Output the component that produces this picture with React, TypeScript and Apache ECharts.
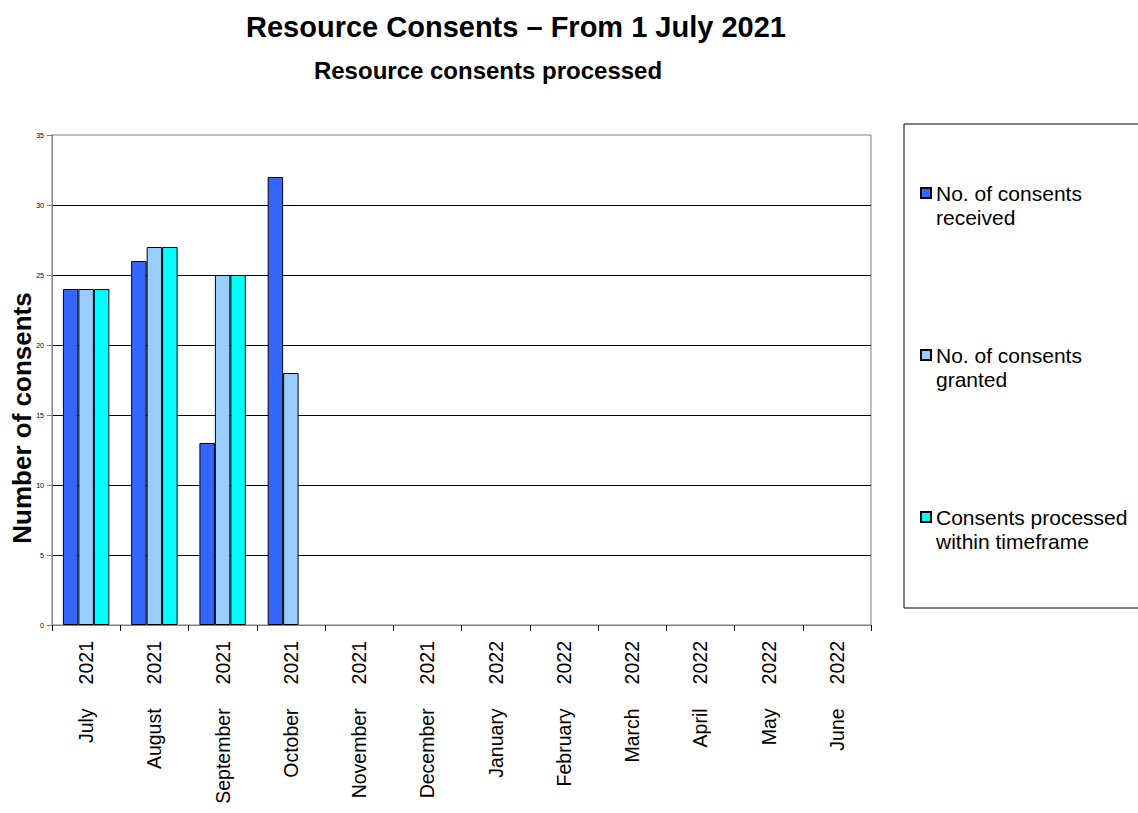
import React, { useEffect, useRef } from "react";
import * as echarts from "echarts";

const months = ["July", "August", "September", "October", "November", "December", "January", "February", "March", "April", "May", "June"];
const years = ["2021", "2021", "2021", "2021", "2021", "2021", "2022", "2022", "2022", "2022", "2022", "2022"];
const categories = months.map((m, i) => `${m} ${years[i]}`);

const seriesNames = ["No. of consents received", "No. of consents granted", "Consents processed within timeframe"];
const legendLabels = ["No. of consents\nreceived", "No. of consents\ngranted", "Consents processed\nwithin timeframe"];
const seriesColors = ["#3366FF", "#99CCFF", "#00FFFF"];

const received = [24, 26, 13, 32, null, null, null, null, null, null, null, null];
const granted = [24, 27, 25, 18, null, null, null, null, null, null, null, null];
const processed = [24, 27, 25, null, null, null, null, null, null, null, null, null];

const FONT = "'Liberation Sans', Arial, Helvetica, sans-serif";

export default function App() {
  const ref = useRef<HTMLDivElement>(null);
  useEffect(() => {
    if (!ref.current) return;
    const chart = echarts.init(ref.current, undefined, { renderer: "svg" });
    const values = [received, granted, processed];
    chart.setOption({
      animation: false,
      backgroundColor: "#ffffff",
      title: [
        {
          text: "Resource Consents \u2013 From 1 July 2021",
          left: 511,
          top: 7,
          textAlign: "center",
          textStyle: { fontFamily: FONT, fontSize: 29, fontWeight: "bold", color: "#000" },
        },
        {
          text: "Resource consents processed",
          left: 483,
          top: 53,
          textAlign: "center",
          textStyle: { fontFamily: FONT, fontSize: 24, fontWeight: "bold", color: "#000" },
        },
      ],
      graphic: [
        {
          type: "rect",
          shape: { x: 904, y: 124, width: 300, height: 484 },
          style: { fill: "none", stroke: "#000", lineWidth: 1 },
          silent: true,
        },
      ],
      legend: {
        orient: "vertical",
        left: 920,
        top: 157,
        padding: 0,
        itemGap: 90,
        itemWidth: 10,
        itemHeight: 10,
        icon: "rect",
        data: seriesNames,
        formatter: (name: string) => "\n" + legendLabels[seriesNames.indexOf(name)],
        textStyle: {
          fontFamily: FONT,
          fontSize: 21,
          lineHeight: 24,
          color: "#000",
        },
      },
      grid: {
        left: 52,
        top: 135,
        right: 267,
        bottom: 188,
        outerBoundsMode: "none",
        containLabel: false,
        show: true,
        borderColor: "#808080",
        borderWidth: 1,
        backgroundColor: "transparent",
      },
      xAxis: {
        type: "category",
        data: categories,
        boundaryGap: true,
        axisLine: { show: true, lineStyle: { color: "#808080", width: 1 } },
        axisTick: { show: true, length: 6, inside: false, lineStyle: { color: "#000" } },
        axisLabel: {
          interval: 0,
          rotate: 90,
          margin: 16,
          fontFamily: FONT,
          fontSize: 19.5,
          color: "#000",
          formatter: (v: string) => {
            const parts = v.split(" ");
            return `${parts[0]}{g| }${parts[1]}`;
          },
          rich: { g: { width: 24, fontSize: 19.5 } },
        },
        splitLine: { show: false },
      },
      yAxis: {
        type: "value",
        min: 0,
        max: 35,
        interval: 5,
        name: "Number of consents",
        nameLocation: "middle",
        nameGap: 17,
        nameMoveOverlap: false,
        nameTextStyle: {
          fontFamily: FONT,
          fontSize: 26,
          fontWeight: "bold",
          color: "#000",
          padding: [0, 76, 0, 0],
        },
        axisLine: { show: true, lineStyle: { color: "#808080", width: 1 } },
        axisTick: { show: true, length: 5, inside: false, lineStyle: { color: "#808080" } },
        axisLabel: { fontFamily: FONT, fontSize: 7, color: "#000", margin: 8 },
        splitLine: { show: true, showMaxLine: false, showMinLine: false, lineStyle: { color: "#000", width: 1 } },
      },
      series: seriesNames.map((name, i) => ({
        name,
        type: "bar",
        data: values[i],
        barGap: "0%",
        barCategoryGap: "32%",
        itemStyle: { color: seriesColors[i], borderColor: "#000", borderWidth: 1 },
      })),
    });
    return () => chart.dispose();
  }, []);
  return <div ref={ref} style={{ position: "fixed", left: 0, top: 0, width: 1138, height: 813 }} />;
}
